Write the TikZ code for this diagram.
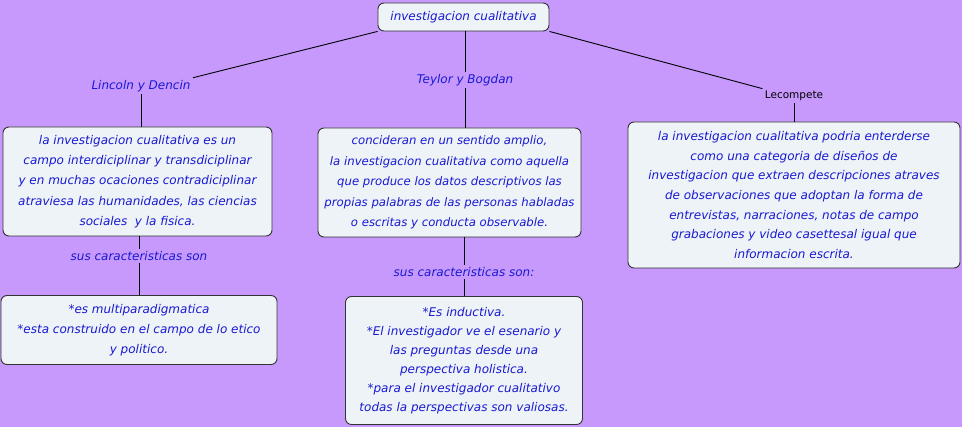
\documentclass[tikz,border=0pt]{standalone}
\usepackage{fontspec}
\usepackage{tikz}
\newfontfamily\mapfont{DejaVu Sans}
\definecolor{mapbg}{RGB}{199,153,253}
\definecolor{boxfill}{RGB}{237,243,246}
\definecolor{mapblue}{RGB}{25,25,210}

\begin{document}
\begin{tikzpicture}[x=1pt,y=-1pt,line width=0.9pt,
  concept/.style={draw=black!80,fill=boxfill,rounded corners=6pt,line width=0.9pt,
    align=center,inner sep=0pt,text=mapblue,font=\mapfont\itshape\fontsize{12}{20.3}\selectfont},
  linkword/.style={text=mapblue,inner sep=2pt,font=\mapfont\itshape\fontsize{12}{20}\selectfont}]

\useasboundingbox[fill=mapbg] (0,0) rectangle (962,427);

% top concept
\node[concept,minimum width=171pt,minimum height=28pt] (top) at (463.5,17) {investigacion cualitativa};

% authors
\node[linkword] (lincoln) at (141,86) {Lincoln y Dencin};
\node[linkword] (teylor) at (465,80) {Teylor y Bogdan};
\node[inner sep=2pt,font=\mapfont\fontsize{10.5}{12}\selectfont] (lecompete) at (794,96) {Lecompete};

\draw (top.south west) -- (lincoln.north east);
\draw (top.south -| teylor) -- (teylor);
\draw (top.south east) -- (lecompete.north west);

% definitions
\node[concept,minimum width=269pt,minimum height=109pt] (defa) at (137.5,181.5)
  {la investigacion cualitativa es un\\campo interdiciplinar y transdiciplinar\\y en muchas ocaciones contradiciplinar\\atraviesa las humanidades, las ciencias\\sociales \ y la fisica.};
\node[concept,minimum width=263pt,minimum height=109pt,font=\mapfont\itshape\fontsize{11.7}{20.5}\selectfont] (defb) at (449.5,182.5)
  {concideran en un sentido amplio,\\la investigacion cualitativa como aquella\\que produce los datos descriptivos las\\propias palabras de las personas habladas\\o escritas y conducta observable.};
\node[concept,minimum width=332pt,minimum height=146pt,font=\mapfont\itshape\fontsize{12}{19.7}\selectfont] (defc) at (794,195)
  {la investigacion cualitativa podria enterderse\\como una categoria de diseños de\\investigacion que extraen descripciones atraves\\de observaciones que adoptan la forma de\\entrevistas, narraciones, notas de campo\\grabaciones y video casettesal igual que\\informacion escrita.};

\draw (lincoln) -- (lincoln |- defa.north);
\draw (teylor) -- (teylor |- defb.north);
\draw (lecompete) -- (lecompete |- defc.north);

% characteristics
\node[linkword] (susa) at (139,256) {sus caracteristicas son};
\node[linkword] (susb) at (464,272) {sus caracteristicas son:};

\node[concept,minimum width=276pt,minimum height=69pt] (chara) at (139,330)
  {*es multiparadigmatica\\*esta construido en el campo de lo etico\\y politico.};
\node[concept,minimum width=237pt,minimum height=128pt,font=\mapfont\itshape\fontsize{12}{18.9}\selectfont] (charb) at (464,360.5)
  {*Es inductiva.\\*El investigador ve el esenario y\\las preguntas desde una\\perspectiva holistica.\\*para el investigador cualitativo\\todas la perspectivas son valiosas.};

\draw (susa |- defa.south) -- (susa);
\draw (susa) -- (chara);
\draw (susb |- defb.south) -- (susb);
\draw (susb) -- (charb);

\end{tikzpicture}
\end{document}
